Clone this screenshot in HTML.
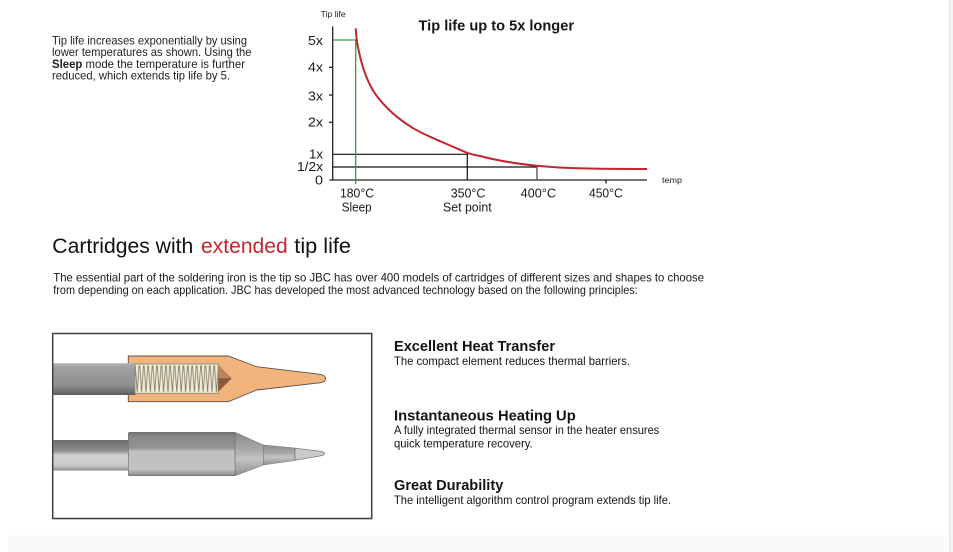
<!DOCTYPE html>
<html><head><meta charset="utf-8"><style>
html,body{margin:0;padding:0;background:#fff;}
svg{display:block;font-family:"Liberation Sans",Arial,sans-serif;}
</style></head><body>
<svg width="953" height="552" viewBox="0 0 953 552" xmlns="http://www.w3.org/2000/svg">
<defs>
<linearGradient id="rod1" x1="0" y1="0" x2="0" y2="1">
<stop offset="0" stop-color="#b0b0b0"/><stop offset="0.15" stop-color="#a0a0a0"/><stop offset="0.7" stop-color="#8e8e8e"/><stop offset="1" stop-color="#5e5e5e"/>
</linearGradient>
<linearGradient id="rod2" x1="0" y1="0" x2="0" y2="1">
<stop offset="0" stop-color="#6f6f6f"/><stop offset="0.35" stop-color="#8c8c8c"/><stop offset="0.5" stop-color="#d2d2d2"/><stop offset="0.85" stop-color="#c8c8c8"/><stop offset="1" stop-color="#8a8a8a"/>
</linearGradient>
<linearGradient id="sleeve" x1="0" y1="0" x2="0" y2="1">
<stop offset="0" stop-color="#727272"/><stop offset="0.1" stop-color="#888888"/><stop offset="0.36" stop-color="#939393"/><stop offset="0.44" stop-color="#c0c0c0"/><stop offset="0.85" stop-color="#c2c2c2"/><stop offset="1" stop-color="#8a8a8a"/>
</linearGradient>
<linearGradient id="cone" x1="0" y1="0" x2="0" y2="1">
<stop offset="0" stop-color="#8a8a8a"/><stop offset="0.4" stop-color="#a8a8a8"/><stop offset="0.6" stop-color="#c4c4c4"/><stop offset="1" stop-color="#909090"/>
</linearGradient>
<pattern id="coil" x="135" y="364" width="4.4" height="30" patternUnits="userSpaceOnUse">
<path d="M0.3,1.5 L2.2,28 L4.1,1.5" fill="none" stroke="#7d7a6a" stroke-width="0.8"/>
</pattern>
</defs>

<rect x="8" y="535" width="940" height="17" fill="#fafafa"/>
<rect x="949" y="0" width="1" height="552" fill="#e2e2e2"/>
<rect x="950" y="0" width="3" height="552" fill="#f3f3f3"/>

<g font-size="11.6" fill="#1e1e1e">
<text x="52" y="44.5" textLength="195" lengthAdjust="spacingAndGlyphs">Tip life increases exponentially by using</text>
<text x="52" y="56.2" textLength="199.5" lengthAdjust="spacingAndGlyphs">lower temperatures as shown. Using the</text>
<text x="52" y="67.8" textLength="193" lengthAdjust="spacingAndGlyphs"><tspan font-weight="bold">Sleep</tspan> mode the temperature is further</text>
<text x="52" y="79.3" textLength="178" lengthAdjust="spacingAndGlyphs">reduced, which extends tip life by 5.</text>
</g>

<text x="320.7" y="17" font-size="8" fill="#222" textLength="25" lengthAdjust="spacingAndGlyphs">Tip life</text>
<text x="418.5" y="30.5" font-size="15" font-weight="bold" fill="#151515" textLength="155.5" lengthAdjust="spacingAndGlyphs">Tip life up to 5x longer</text>

<g stroke="#222" stroke-width="1.3" fill="none">
<line x1="332.7" y1="26.5" x2="332.7" y2="180.5"/>
<line x1="329.5" y1="180" x2="647" y2="180"/>
<line x1="329" y1="67.3" x2="332.7" y2="67.3"/>
<line x1="329" y1="95" x2="332.7" y2="95"/>
<line x1="329" y1="122.3" x2="332.7" y2="122.3"/>
<line x1="606" y1="180" x2="606" y2="183.5"/>
</g>
<g stroke="#111" stroke-width="1.2" fill="none">
<polyline points="332.7,154.3 467.3,154.3 467.3,180"/>
<line x1="332.7" y1="167" x2="537" y2="167"/>
</g>
<line x1="537" y1="166.5" x2="537" y2="180" stroke="#555" stroke-width="1.4"/>
<polyline points="332.7,40 355.7,40 355.7,184" stroke="#3c9a3c" stroke-width="1.3" fill="none"/>
<path d="M355.7,28.3 C356.2,33 356.2,36 356.7,40 C357.4,45 358.2,49 359.3,53.3 C360.5,58.5 361.8,63.5 363.3,68.3 C365.3,74.5 367.4,79.5 370,85 C372.8,90.5 376,95.5 380,100 C385,106 390.5,111.5 396.7,116.7 C402,121 407.5,124.8 413.3,128.3 C418.8,131.5 424.3,134.2 430,136.7 C435.5,139.2 441,141.7 446.7,144 C453.3,146.8 460,149.8 466.7,152.7 C471,154.3 475.5,155.2 480,156 C487,157.8 493.5,159.3 500,160.5 C512,162.8 524.5,164.5 536.7,165.7 C552,167.2 567.5,168 583,168.4 C605,168.9 626,169 647,169" stroke="#c0262d" stroke-width="2" fill="none"/>

<g font-size="12.5" fill="#1a1a1a" text-anchor="end">
<text x="323" y="45" textLength="15" lengthAdjust="spacingAndGlyphs">5x</text>
<text x="323" y="71.5" textLength="15" lengthAdjust="spacingAndGlyphs">4x</text>
<text x="323" y="100.5" textLength="15" lengthAdjust="spacingAndGlyphs">3x</text>
<text x="323" y="126.5" textLength="15" lengthAdjust="spacingAndGlyphs">2x</text>
<text x="323" y="158.5" textLength="14" lengthAdjust="spacingAndGlyphs">1x</text>
<text x="323" y="171.2" textLength="26" lengthAdjust="spacingAndGlyphs">1/2x</text>
<text x="323" y="184.5" textLength="8" lengthAdjust="spacingAndGlyphs">0</text>
</g>
<g font-size="12.5" fill="#1a1a1a">
<text x="340" y="197.5" textLength="34" lengthAdjust="spacingAndGlyphs">180°C</text>
<text x="341.7" y="211.5" textLength="30" lengthAdjust="spacingAndGlyphs">Sleep</text>
<text x="450.7" y="197.5" textLength="34.6" lengthAdjust="spacingAndGlyphs">350°C</text>
<text x="443" y="211.5" textLength="48.7" lengthAdjust="spacingAndGlyphs">Set point</text>
<text x="520.7" y="197.5" textLength="35.3" lengthAdjust="spacingAndGlyphs">400°C</text>
<text x="589" y="197.5" textLength="33.7" lengthAdjust="spacingAndGlyphs">450°C</text>
</g>
<text x="662" y="183" font-size="8" fill="#222" textLength="20" lengthAdjust="spacingAndGlyphs">temp</text>

<g font-size="21" fill="#111">
<text x="52.3" y="253" textLength="141" lengthAdjust="spacingAndGlyphs">Cartridges with</text>
<text x="201" y="253" fill="#c8262d" textLength="86.7" lengthAdjust="spacingAndGlyphs">extended</text>
<text x="294.3" y="253" textLength="56.7" lengthAdjust="spacingAndGlyphs">tip life</text>
</g>
<g font-size="12" fill="#1a1a1a">
<text x="53.3" y="281.5" textLength="650.7" lengthAdjust="spacingAndGlyphs">The essential part of the soldering iron is the tip so JBC has over 400 models of cartridges of different sizes and shapes to choose</text>
<text x="53.3" y="294.2" textLength="584.4" lengthAdjust="spacingAndGlyphs">from depending on each application. JBC has developed the most advanced technology based on the following principles:</text>
</g>

<rect x="53.5" y="334.5" width="319" height="185" fill="#bdbdbd" opacity="0.5"/>
<rect x="52.7" y="333.5" width="319" height="185" fill="#fff" stroke="#3f3f3f" stroke-width="1.5"/>

<path d="M128.3,356 L228.3,356 L256.7,366.7 L320,374.3 Q325.5,375.3 325.5,378.6 Q325.5,382 320,382.8 L256.7,390 L228.3,401.7 L128.3,401.7 Z" fill="#f1b47c" stroke="#5e5048" stroke-width="0.9"/>
<rect x="53.5" y="363.3" width="82" height="31.7" fill="url(#rod1)"/>
<rect x="135" y="364" width="83.3" height="29.3" fill="#efead2" stroke="#8c8a80" stroke-width="0.9"/>
<rect x="135.5" y="364.5" width="82.3" height="28.3" fill="url(#coil)"/>
<polygon points="218.3,365 231.7,378.3 218.3,391.7" fill="#8b5a38"/>
<polygon points="218.3,365 231.7,378.3 218.3,378.3" fill="#b8865e"/>

<rect x="53.5" y="440" width="76" height="30.5" fill="url(#rod2)"/>
<polygon points="235,432.3 263.3,445 263.3,465 235,475.7" fill="url(#cone)" stroke="#777" stroke-width="0.6"/>
<rect x="128.3" y="432.3" width="106.7" height="43.4" rx="1.5" fill="url(#sleeve)" stroke="#6e6e6e" stroke-width="0.6"/>
<polygon points="263.3,445 295,448 295,460.5 263.3,465" fill="url(#cone)" stroke="#777" stroke-width="0.5"/>
<path d="M295,448.2 L321,451.3 Q324.6,452.2 324.6,453.6 Q324.6,455 321,455.8 L295,460.3 Z" fill="#c9c9c9" stroke="#666" stroke-width="0.6"/>

<g fill="#141414">
<text x="394" y="351" font-size="14.5" font-weight="bold" textLength="161" lengthAdjust="spacingAndGlyphs">Excellent Heat Transfer</text>
<text x="394" y="365" font-size="11.6" textLength="236" lengthAdjust="spacingAndGlyphs">The compact element reduces thermal barriers.</text>
<text x="394" y="420.5" font-size="14.5" font-weight="bold" textLength="181.7" lengthAdjust="spacingAndGlyphs">Instantaneous Heating Up</text>
<text x="394" y="434" font-size="11.6" textLength="265.3" lengthAdjust="spacingAndGlyphs">A fully integrated thermal sensor in the heater ensures</text>
<text x="394" y="447.3" font-size="11.6" textLength="138.7" lengthAdjust="spacingAndGlyphs">quick temperature recovery.</text>
<text x="394" y="490" font-size="14.5" font-weight="bold" textLength="109.3" lengthAdjust="spacingAndGlyphs">Great Durability</text>
<text x="394" y="504" font-size="11.6" textLength="277" lengthAdjust="spacingAndGlyphs">The intelligent algorithm control program extends tip life.</text>
</g>
</svg>
</body></html>
